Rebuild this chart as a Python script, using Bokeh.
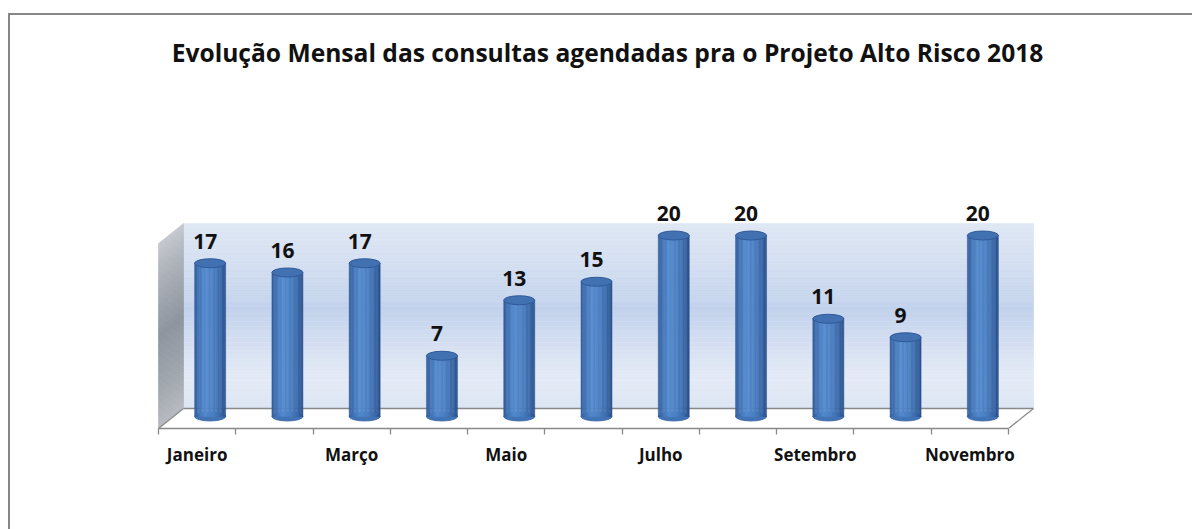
import numpy as np
from bokeh.plotting import figure
from bokeh.models import Range1d, LinearAxis, FixedTicker, BoxAnnotation, InlineStyleSheet
from bokeh.core.properties import value
from bokeh.embed import file_html
from bokeh.resources import INLINE

# ---------------- data ----------------
months = ["Janeiro", "Fevereiro", "Março", "Abril", "Maio", "Junho",
          "Julho", "Agosto", "Setembro", "Outubro", "Novembro"]
consultas = [17, 16, 17, 7, 13, 15, 20, 20, 11, 9, 20]
shown_months = ["Janeiro", "Março", "Maio", "Julho", "Setembro", "Novembro"]
title_text = "Evolução Mensal das consultas agendadas pra o Projeto Alto Risco 2018"
y_max = 20

# ---------------- geometry / style ----------------
W, H = 1192, 529
X0, Y0 = 158, 428            # front-plane origin (canvas px)
FRONT_W = 850                # front-plane width for all categories
DX_PX, DY_PX = 25, 20        # 3-D depth offset
WALL_H = 185                 # wall height in px for y_max
n = len(months)
ux = FRONT_W / n
uy = WALL_H / y_max
dx = DX_PX / ux
dy = DY_PX / uy

def px_x(x):
    return (x - X0) / ux

def px_y(y):
    return (Y0 - y) / uy

FONT = value("Open Sans")
GRAY = "#898989"

def interp(stops, t):
    ts = [s[0] for s in stops]
    cols = np.array([s[1] for s in stops], dtype=float)
    r = np.interp(t, ts, cols[:, 0]); g = np.interp(t, ts, cols[:, 1]); b = np.interp(t, ts, cols[:, 2])
    return "#%02x%02x%02x" % (int(round(r)), int(round(g)), int(round(b)))

p = figure(width=W, height=H, output_backend="svg", toolbar_location=None,
           x_range=Range1d(px_x(0), px_x(W)), y_range=Range1d(0, px_y(0)),
           x_axis_type=None, y_axis_type=None,
           min_border_left=0, min_border_right=0,
           min_border_top=0, min_border_bottom=H - Y0)
p.outline_line_color = None
p.background_fill_color = "white"
p.border_fill_color = "white"
# left edge of the chart-area border continues below the plot frame
p.stylesheets = [InlineStyleSheet(css=(
    ":host { position: relative; }"
    ":host::after { content: ''; position: absolute; left: 7.5px; top: 12.5px; bottom: 0px;"
    " width: 2px; background: #878787; pointer-events: none; z-index: 5; }"))]

# chart-area border (left and top edges)
p.add_layout(BoxAnnotation(left=px_x(7.5), right=px_x(9.5), top=px_y(12.5), bottom=px_y(H + 5),
                           fill_color="#878787", fill_alpha=1, line_color=None))
p.add_layout(BoxAnnotation(left=px_x(7.5), right=px_x(W + 10), top=px_y(12.5), bottom=px_y(14.5),
                           fill_color="#878787", fill_alpha=1, line_color=None))

# title
p.text(x=[px_x(607)], y=[px_y(52)], text=[title_text], text_align="center",
       text_baseline="middle", text_font=FONT, text_font_style="bold",
       text_font_size="24.6px", text_color="#111111")

# back wall gradient (top -> bottom)
wall_stops = [(0.0, (223, 231, 244)), (0.25, (210, 222, 240)), (0.47, (194, 210, 236)),
              (0.7, (218, 227, 243)), (0.85, (228, 235, 246)), (1.0, (220, 229, 243))]
NS = 70
l, r, b, t, c = [], [], [], [], []
for j in range(NS):
    y1 = dy + y_max * (1 - j / NS)
    y0 = dy + y_max * (1 - (j + 1) / NS)
    l.append(dx); r.append(n + dx); b.append(y0); t.append(y1)
    c.append(interp(wall_stops, (j + 0.5) / NS))
p.quad(left=l, right=r, bottom=b, top=t, fill_color=c, line_color=c, line_width=0.6)

# left side wall gradient
side_stops = [(0.0, (196, 200, 206)), (0.2, (170, 175, 183)), (0.5, (140, 147, 157)),
              (0.8, (160, 166, 173)), (1.0, (182, 186, 192))]
xs, ys, c = [], [], []
for j in range(NS):
    ya = y_max * (1 - (j + 1) / NS)
    yb = y_max * (1 - j / NS)
    xs.append([0, dx, dx, 0]); ys.append([ya, ya + dy, yb + dy, yb])
    c.append(interp(side_stops, (j + 0.5) / NS))
p.patches(xs=xs, ys=ys, fill_color=c, line_color=c, line_width=0.6)

# floor
p.patch(x=[0, n, n + dx, dx], y=[0, 0, dy, dy], fill_color="white", line_color=None)
p.multi_line(xs=[[dx, n + dx], [n, n + dx], [0, dx]], ys=[[dy, dy], [0, dy], [0, dy]],
             line_color=GRAY, line_width=1.3)

# cylinders
bw = 31 / ux
bar_x = [i + 0.5 + 13 / ux for i in range(n)]
top_off = 8 / uy
bot_off = 12 / uy
cyl_stops = [(0.0, (50, 92, 152)), (0.12, (64, 112, 178)), (0.35, (84, 139, 206)),
             (0.6, (76, 128, 195)), (0.85, (58, 104, 168)), (1.0, (42, 80, 138))]
p.ellipse(x=bar_x, y=[bot_off] * n, width=bw, height=9, height_units="screen",
          fill_color="#4274b5", line_color="#3a67a3", line_width=0.8)
NB = 24
l, r, b, t, c = [], [], [], [], []
for xc, v in zip(bar_x, consultas):
    for k in range(NB):
        l.append(xc - bw / 2 + bw * k / NB); r.append(xc - bw / 2 + bw * (k + 1) / NB)
        b.append(bot_off); t.append(v + top_off)
        c.append(interp(cyl_stops, (k + 0.5) / NB))
p.quad(left=l, right=r, bottom=b, top=t, fill_color=c, line_color=c, line_width=0.5)
p.ellipse(x=bar_x, y=[v + top_off for v in consultas], width=bw, height=9, height_units="screen",
          fill_color="#4271b1", line_color="#30599a", line_width=1)

# value labels
p.text(x=bar_x, y=[v + top_off for v in consultas], text=[str(v) for v in consultas],
       x_offset=-5, y_offset=-22, text_align="center", text_baseline="middle",
       text_font=FONT, text_font_style="bold", text_font_size="21px", text_color="#111111")

# category axis
centers = [months.index(m) + 0.5 for m in shown_months]
ax = LinearAxis(ticker=FixedTicker(ticks=centers, minor_ticks=list(range(n + 1))),
                major_label_overrides={c_: m for c_, m in zip(centers, shown_months)},
                bounds=(0, n))
ax.axis_line_color = GRAY
ax.axis_line_width = 1.3
ax.major_tick_line_color = None
ax.major_tick_out = 0
ax.major_tick_in = 0
ax.minor_tick_line_color = GRAY
ax.minor_tick_line_width = 1.3
ax.minor_tick_out = 6
ax.minor_tick_in = 0
ax.major_label_standoff = 8
ax.major_label_text_font = "Open Sans"
ax.major_label_text_font_style = "bold"
ax.major_label_text_font_size = "17px"
ax.major_label_text_color = "#111111"
p.add_layout(ax, "below")

open("out.html", "w").write(file_html(p, INLINE))
